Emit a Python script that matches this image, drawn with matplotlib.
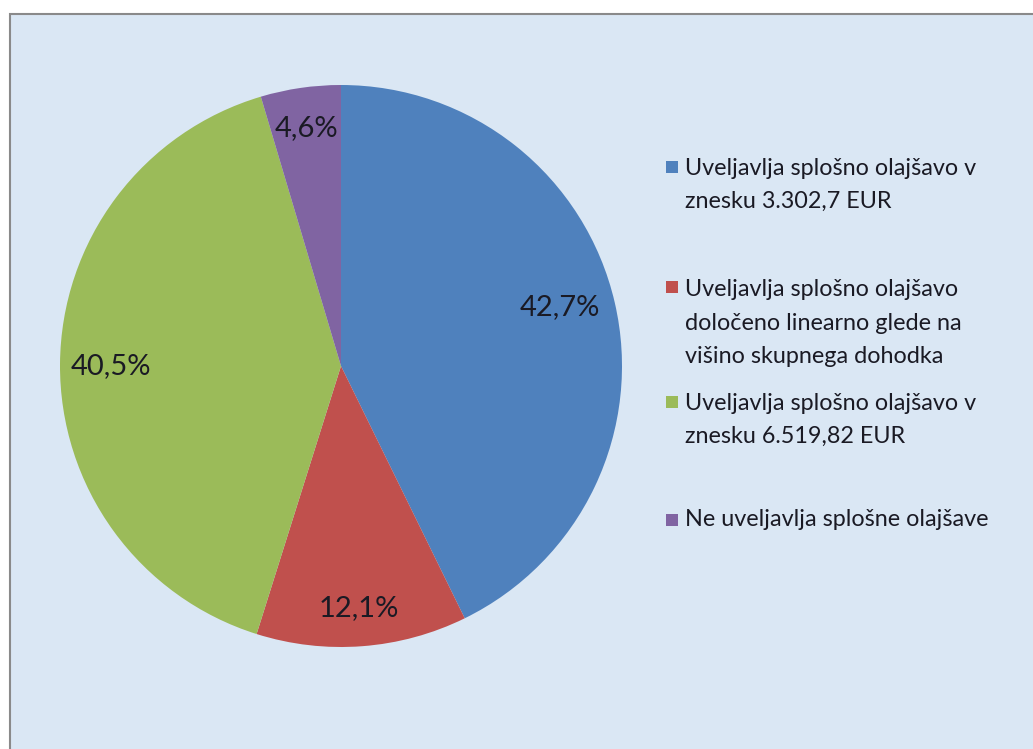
import matplotlib.pyplot as plt
from matplotlib.patches import Rectangle
import numpy as np

# data
labels = [
    "Uveljavlja splošno olajšavo v\nznesku 3.302,7 EUR",
    "Uveljavlja splošno olajšavo\ndoločeno linearno glede na\nvišino skupnega dohodka",
    "Uveljavlja splošno olajšavo v\nznesku 6.519,82 EUR",
    "Ne uveljavlja splošne olajšave",
]
shares = [42.7, 12.1, 40.5, 4.6]
colors = ["#4F81BD", "#C0504D", "#9BBB59", "#8064A2"]

W, H = 1033, 749
fig = plt.figure(figsize=(W / 100, H / 100), dpi=100)
fig.patch.set_facecolor("white")
plt.rcParams["font.family"] = ["Lato", "DejaVu Sans"]

# chart area frame (runs off right/bottom edge like the screenshot)
fig.patches.append(Rectangle((10 / W, -0.05), 1.1, (H - 14) / H + 0.05,
                             transform=fig.transFigure, facecolor="#dae7f4",
                             edgecolor="#8a8a8a", linewidth=1.5, zorder=-5))

# pie: centre (341, 366), radius 281 px
cx, cy, r = 341, 366, 281
ax = fig.add_axes([(cx - r) / W, (H - cy - r) / H, 2 * r / W, 2 * r / H])
ax.set_zorder(2)
wedges, texts, autotexts = ax.pie(
    shares, colors=colors, startangle=90, counterclock=False,
    radius=1, pctdistance=0.8,
    autopct=lambda p: f"{p:.1f}%".replace(".", ","),
    wedgeprops=dict(edgecolor="none"),
    textprops=dict(fontsize=21, color="#1a1a24"),
)
ax.set_xlim(-1, 1)
ax.set_ylim(-1, 1)
ax.set_aspect("equal")
ax.axis("off")

# Excel "best fit" placement for the labels
autotexts[0].set_position(np.array(autotexts[0].get_position()) + (0, 0.03))
autotexts[1].set_position(np.array(autotexts[1].get_position()) * 1.08)
autotexts[2].set_position((-0.82, 0.0))
autotexts[3].set_position(np.array(autotexts[3].get_position()) * 1.07)

# legend drawn manually to match the spacing of the original
centers = [185, 323, 420, 520]
line_counts = [lab.count("\n") + 1 for lab in labels]
for lab, col, yc, n in zip(labels, colors, centers, line_counts):
    first_line_y = yc - (n - 1) * 18
    fig.patches.append(Rectangle((666 / W, 1 - (first_line_y + 6) / H), 12 / W, 12 / H,
                                 transform=fig.transFigure, facecolor=col,
                                 edgecolor="none", zorder=3))
    fig.text(685 / W, 1 - yc / H, lab, fontsize=16.8, color="#1a1a24",
             va="center", ha="left", linespacing=1.72)

fig.savefig("out.png", dpi=100)
